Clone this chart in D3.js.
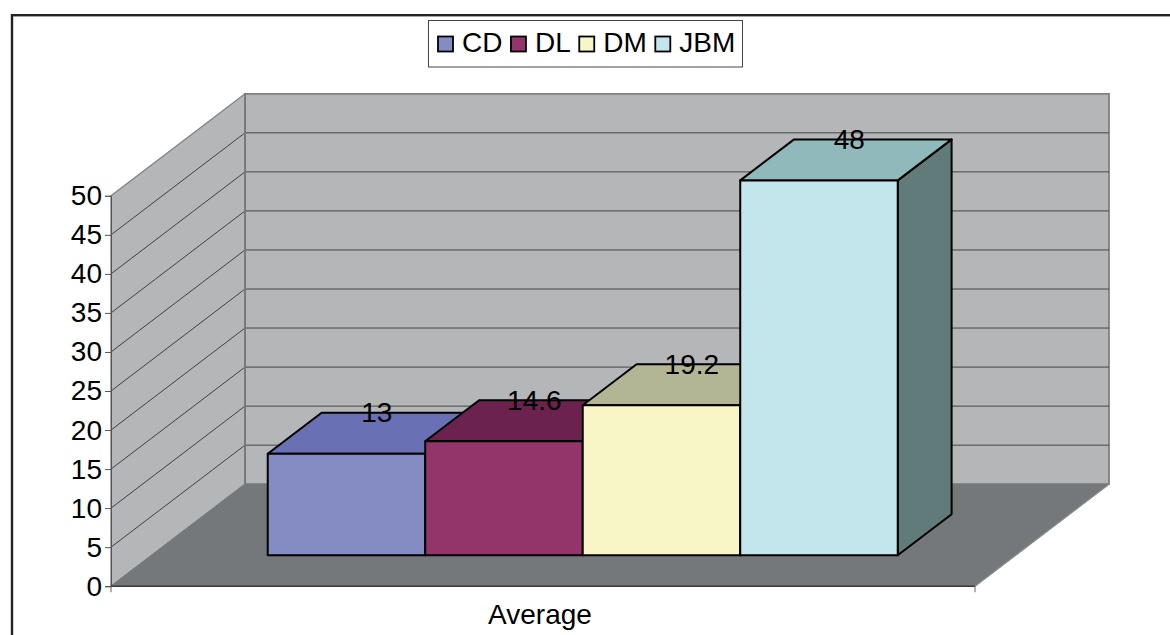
<!DOCTYPE html>
<html>
<head>
<meta charset="utf-8">
<script src="https://cdn.jsdelivr.net/npm/d3@7/dist/d3.min.js"></script>
<style>
  html, body { margin: 0; padding: 0; background: #fff; }
  svg { display: block; }
  text { font-family: "Liberation Sans", Arial, sans-serif; fill: #000; }
</style>
</head>
<body>
<svg id="chart" width="1170" height="635"></svg>
<script>
// Chart values
const categories = ["Average"];
const seriesNames = ["CD", "DL", "DM", "JBM"];
const seriesValues = [13, 14.6, 19.2, 48];
const yTicks = [0, 5, 10, 15, 20, 25, 30, 35, 40, 45, 50];

// Face colours per series
const frontColors = ["#858CC4", "#93356B", "#F8F6C6", "#C3E6EC"];
const topColors = ["#6A70B4", "#6B224E", "#B3B695", "#8FB9BA"];
const sideColors = ["#4F5488", "#521A3B", "#87896F", "#617B7B"];

const svg = d3.select("#chart");
const FONT = 28;

// Front plane scales
const y = d3.scaleLinear().domain([0, 50]).range([586.2, 195.8]);
const x0 = d3.scaleBand().domain(categories).range([111, 975]);
const x1 = d3.scaleBand().domain(seriesNames).range([227, 857]);

// Oblique projection of the depth axis: 0 = front of floor, 1 = back wall
const depthX = d3.scaleLinear().domain([0, 1]).range([0, 134]);
const depthY = d3.scaleLinear().domain([0, 1]).range([0, -102]);
const project = (px, py, d) => [px + depthX(d), py + depthY(d)];
const line = d3.line().curve(d3.curveLinearClosed);
const barFront = 0.304, barBack = 0.706;

// Outer frame
svg.append("rect")
  .attr("x", 12).attr("y", 15.2).attr("width", 1200).attr("height", 700)
  .attr("fill", "#fff").attr("stroke", "#222").attr("stroke-width", 2.4);

const [xL, xR] = x0.range();
const y0 = y(0), y50 = y(50);

// Walls and floor
svg.append("path")
  .attr("d", line([project(xL, y0, 0), project(xL, y0, 1), project(xL, y50, 1), project(xL, y50, 0)]))
  .attr("fill", "#B5B6B8").attr("stroke", "#7F8183").attr("stroke-width", 1.4);
svg.append("path")
  .attr("d", line([project(xL, y0, 1), project(xR, y0, 1), project(xR, y50, 1), project(xL, y50, 1)]))
  .attr("fill", "#B5B6B8").attr("stroke", "#7F8183").attr("stroke-width", 1.8);
svg.append("path")
  .attr("d", line([project(xL, y0, 0), project(xR, y0, 0), project(xR, y0, 1), project(xL, y0, 1)]))
  .attr("fill", "#75787A").attr("stroke", "#75787A").attr("stroke-width", 1);

// Gridlines on both walls
const inner = yTicks.filter(t => t > 0 && t < 50);
svg.append("g").selectAll("line.back").data(inner).join("line")
  .attr("x1", xL + depthX(1)).attr("x2", xR + depthX(1))
  .attr("y1", t => y(t) + depthY(1)).attr("y2", t => y(t) + depthY(1))
  .attr("stroke", "#454648").attr("stroke-width", 1);
svg.append("g").selectAll("line.side").data(inner).join("line")
  .attr("x1", xL).attr("x2", xL + depthX(1))
  .attr("y1", t => y(t)).attr("y2", t => y(t) + depthY(1))
  .attr("stroke", "#3F4042").attr("stroke-width", 1);

// Corner edges of the walls
svg.append("line")
  .attr("x1", xL + depthX(1)).attr("x2", xL + depthX(1))
  .attr("y1", y0 + depthY(1)).attr("y2", y50 + depthY(1))
  .attr("stroke", "#77797B").attr("stroke-width", 1.8);
svg.append("line")
  .attr("x1", xR).attr("x2", xR + depthX(1))
  .attr("y1", y0).attr("y2", y0 + depthY(1))
  .attr("stroke", "#8A8C8E").attr("stroke-width", 1.2);

// Value axis: ticks and labels
const yAxis = svg.append("g")
  .attr("transform", `translate(${xL},0)`)
  .call(d3.axisLeft(y).tickValues(yTicks).tickSize(6).tickPadding(3).tickFormat(d3.format("d")));
yAxis.select(".domain").attr("stroke", "#555").attr("stroke-width", 1);
yAxis.selectAll(".tick line").attr("stroke", "#555").attr("stroke-width", 1);
yAxis.selectAll("text")
  .attr("font-size", FONT).style("font-family", '"Liberation Sans", Arial, sans-serif')
  .attr("fill", "#000").attr("dy", "0.32em");

// Category axis
svg.append("line")
  .attr("x1", xL).attr("x2", xR).attr("y1", y0).attr("y2", y0)
  .attr("stroke", "#111").attr("stroke-width", 1);
svg.append("g").selectAll("line").data([xL, xR]).join("line")
  .attr("x1", d => d).attr("x2", d => d)
  .attr("y1", y0).attr("y2", y0 + 6)
  .attr("stroke", "#666").attr("stroke-width", 1);
svg.append("text")
  .attr("x", x0(categories[0]) + x0.bandwidth() / 2 - 3)
  .attr("y", 624)
  .attr("text-anchor", "middle").attr("font-size", FONT)
  .text(categories[0]);

// Bars, left to right so that each one overlaps the previous
const bars = svg.append("g").selectAll("g")
  .data(seriesNames.map((name, i) => ({ name, value: seriesValues[i], i })))
  .join("g");

const faceStyle = sel => sel.attr("stroke", "#000").attr("stroke-width", 2).attr("stroke-linejoin", "round");

bars.each(function (d) {
  const g = d3.select(this);
  const l = x1(d.name), r = l + x1.bandwidth();
  const t = y(d.value);
  g.append("path")
    .attr("d", line([project(r, y0, barFront), project(r, y0, barBack), project(r, t, barBack), project(r, t, barFront)]))
    .attr("fill", sideColors[d.i]).call(faceStyle);
  g.append("path")
    .attr("d", line([project(l, t, barFront), project(r, t, barFront), project(r, t, barBack), project(l, t, barBack)]))
    .attr("fill", topColors[d.i]).call(faceStyle);
  g.append("path")
    .attr("d", line([project(l, y0, barFront), project(r, y0, barFront), project(r, t, barFront), project(l, t, barFront)]))
    .attr("fill", frontColors[d.i]).call(faceStyle);
});

// Value labels sit on the back edge of each bar top
svg.append("g").selectAll("text")
  .data(seriesValues)
  .join("text")
  .attr("x", (v, i) => x1(seriesNames[i]) + x1.bandwidth() / 2 + depthX(barBack) - 23.5)
  .attr("y", v => y(v) + depthY(barBack) + 9.5)
  .attr("text-anchor", "middle").attr("font-size", FONT)
  .text(v => v);

// Legend, laid out from the measured width of each label
const legend = svg.append("g");
legend.append("rect")
  .attr("x", 428.5).attr("y", 20.5).attr("width", 314).attr("height", 46.5)
  .attr("fill", "#fff").attr("stroke", "#444").attr("stroke-width", 1);
let cursor = 438;
seriesNames.forEach((name, i) => {
  legend.append("rect")
    .attr("x", cursor).attr("y", 36.5).attr("width", 15).attr("height", 15)
    .attr("fill", frontColors[i]).attr("stroke", "#000").attr("stroke-width", 1.8);
  const label = legend.append("text")
    .attr("x", cursor + 24).attr("y", 52)
    .attr("font-size", FONT).text(name);
  cursor += 24 + label.node().getComputedTextLength() + 8.5;
});
</script>
</body>
</html>
